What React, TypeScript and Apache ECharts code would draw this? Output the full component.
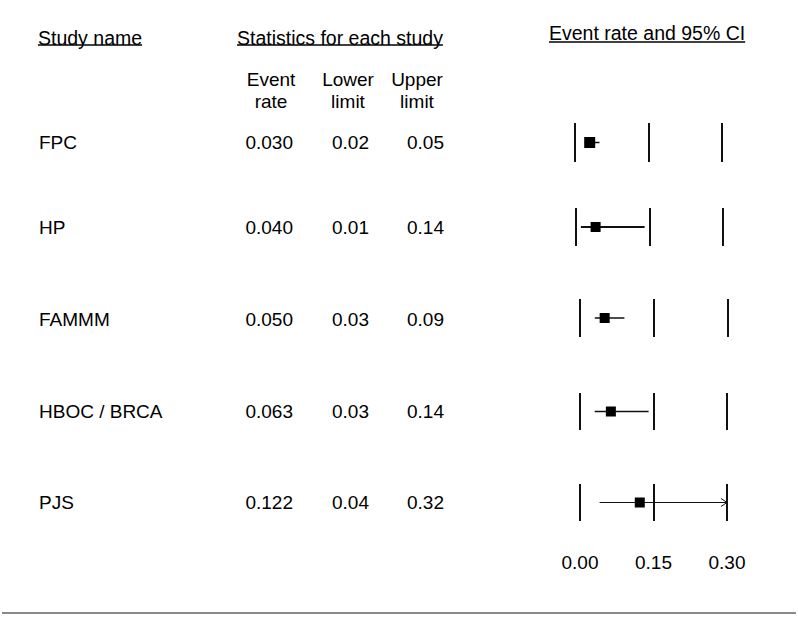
import React, { useEffect, useRef } from "react";
import * as echarts from "echarts";

// ---- data ----
const studies = ["FPC", "HP", "FAMMM", "HBOC / BRCA", "PJS"];
const eventRate = [0.03, 0.04, 0.05, 0.063, 0.122];
const lowerLimit = [0.02, 0.01, 0.03, 0.03, 0.04];
const upperLimit = [0.05, 0.14, 0.09, 0.14, 0.32];
const axisMin = 0;
const axisMax = 0.3;
const axisStep = 0.15;

// ---- layout / style ----
const FONT = '"Liberation Sans", Arial, Helvetica, sans-serif';
const FS = 19;
const HFS = 19.5;
const INK = "#111";
const rowTextY = [142.5, 227, 319, 411, 502];
const plotLeft = [575, 576, 580, 580, 580];
const plotRight = [722, 723, 728, 727, 727];
const plotTop = [123, 208, 299, 393, 484];
const plotBottom = [162, 246, 337, 430, 521];
const markerSize = [11, 10, 10, 10, 10];
const ciWidth = [1.5, 2, 1.5, 1.5, 1.2];

function measure(t: string, fs: number): number {
  const ctx = document.createElement("canvas").getContext("2d");
  if (!ctx) return t.length * fs * 0.5;
  ctx.font = `${fs}px ${FONT}`;
  return ctx.measureText(t).width;
}

export default function App() {
  const ref = useRef<HTMLDivElement>(null);
  useEffect(() => {
    document.body.style.margin = "0";
    const chart = echarts.init(ref.current!, null, { renderer: "svg" });

    const grids: any[] = [];
    const xAxes: any[] = [];
    const yAxes: any[] = [];
    const series: any[] = [];
    const n = studies.length;
    for (let i = 0; i < n; i++) {
      grids.push({
        left: plotLeft[i],
        top: plotTop[i],
        width: plotRight[i] - plotLeft[i],
        height: plotBottom[i] - plotTop[i],
      });
      xAxes.push({
        type: "value",
        gridIndex: i,
        min: axisMin,
        max: axisMax,
        interval: axisStep,
        axisLine: { show: false },
        axisTick: { show: false },
        splitLine: { show: true, showMinLine: true, showMaxLine: true, lineStyle: { color: INK, width: 2 } },
        axisLabel: {
          show: i === n - 1,
          formatter: (v: number) => v.toFixed(2),
          fontSize: FS,
          fontFamily: FONT,
          color: "#000",
          margin: 32,
        },
      });
      yAxes.push({ type: "value", gridIndex: i, min: -1, max: 1, show: false });
      const lw = ciWidth[i];
      series.push({
        type: "custom",
        xAxisIndex: i,
        yAxisIndex: i,
        data: [[lowerLimit[i], upperLimit[i], 0]],
        encode: { x: [0, 1], y: 2 },
        z: 2,
        renderItem: (params: any, api: any) => {
          const lo = api.value(0);
          const hi = api.value(1);
          const end = Math.min(hi, axisMax);
          const p1 = api.coord([lo, 0]);
          const p2 = api.coord([end, 0]);
          const children: any[] = [
            {
              type: "line",
              shape: { x1: p1[0], y1: p1[1], x2: p2[0], y2: p2[1] },
              style: { stroke: INK, lineWidth: lw },
            },
          ];
          if (hi > axisMax) {
            children.push({
              type: "polyline",
              shape: { points: [[p2[0] - 6, p2[1] - 4], [p2[0], p2[1]], [p2[0] - 6, p2[1] + 4]] },
              style: { stroke: INK, fill: "none", lineWidth: 1 },
            });
          }
          return { type: "group", children };
        },
      });
      series.push({
        type: "scatter",
        xAxisIndex: i,
        yAxisIndex: i,
        data: [[eventRate[i], 0]],
        symbol: "rect",
        symbolSize: markerSize[i],
        itemStyle: { color: "#000", opacity: 1 },
        z: 3,
      });
    }

    const txt = (text: string, x: number, y: number, align: string = "left", fs: number = FS) => ({
      type: "text",
      x,
      y,
      style: { text, fill: "#000", font: `${fs}px ${FONT}`, align, verticalAlign: "middle" },
    });
    const uline = (x1: number, x2: number, y: number) => ({
      type: "line",
      shape: { x1, y1: y, x2, y2: y },
      style: { stroke: "#000", lineWidth: 1.5 },
    });

    const graphics: any[] = [];
    const h1 = "Study name";
    const h2 = "Statistics for each study";
    const h3 = "Event rate and 95% CI";
    graphics.push(txt(h1, 38, 38, "left", HFS));
    graphics.push(uline(38, 38 + measure(h1, HFS), 45));
    graphics.push(txt(h2, 237, 38, "left", HFS));
    graphics.push(uline(237, 237 + measure(h2, HFS), 45));
    graphics.push(txt(h3, 549, 32.5, "left", HFS));
    graphics.push(uline(549, 549 + measure(h3, HFS), 42));

    graphics.push(txt("Event", 271, 79, "center"));
    graphics.push(txt("rate", 271, 101, "center"));
    graphics.push(txt("Lower", 348, 79, "center"));
    graphics.push(txt("limit", 348, 101, "center"));
    graphics.push(txt("Upper", 417, 79, "center"));
    graphics.push(txt("limit", 417, 101, "center"));

    for (let i = 0; i < n; i++) {
      graphics.push(txt(studies[i], 39, rowTextY[i]));
      graphics.push(txt(eventRate[i].toFixed(3), 293, rowTextY[i], "right"));
      graphics.push(txt(lowerLimit[i].toFixed(2), 369, rowTextY[i], "right"));
      graphics.push(txt(upperLimit[i].toFixed(2), 444, rowTextY[i], "right"));
    }

    graphics.push({
      type: "line",
      shape: { x1: 2, y1: 613, x2: 796, y2: 613 },
      style: { stroke: "#8a8a8a", lineWidth: 2 },
    });

    chart.setOption({
      animation: false,
      backgroundColor: "#fff",
      grid: grids,
      xAxis: xAxes,
      yAxis: yAxes,
      series,
      graphic: graphics,
    });
    return () => chart.dispose();
  }, []);
  return <div ref={ref} style={{ width: 798, height: 617 }} />;
}
